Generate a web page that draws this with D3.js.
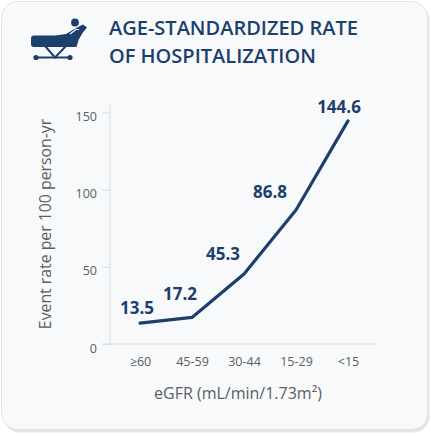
<!DOCTYPE html>
<html>
<head>
<meta charset="utf-8">
<script src="https://cdn.jsdelivr.net/npm/d3@7"></script>
<style>
  html, body { margin: 0; padding: 0; background: #fff; }
  svg { display: block; }
  text { font-family: "Open Sans", "Noto Sans", sans-serif; }
</style>
</head>
<body>
<script>
// eGFR groups and hospitalization rate per 100 person-yr
const categories = ["\u226560", "45-59", "30-44", "15-29", "<15"];
const rates = [13.5, 17.2, 45.3, 86.8, 144.6];
const yTicks = [0, 50, 100, 150];
const titleLines = ["AGE-STANDARDIZED RATE", "OF HOSPITALIZATION"];
// label nudges (px) so the numbers sit up/left of the line like the original
const labelNudge = [[-3, -9], [-12, -17], [-21, -14], [-26, -12], [-9, -8]];

const W = 431, H = 436;
const navy = "#1c3f6b", grey = "#5a5e63", axisGrey = "#d9dde1";

const svg = d3.select("body").append("svg")
  .attr("width", W)
  .attr("height", H);

// card
svg.append("rect")
  .attr("x", 3.5).attr("y", 4.5)
  .attr("width", 426).attr("height", 428)
  .attr("rx", 16)
  .attr("fill", "#e4e4e4");
svg.append("rect")
  .attr("x", 1.5).attr("y", 1.5)
  .attr("width", 426).attr("height", 428)
  .attr("rx", 16)
  .attr("fill", "#f7f9fb")
  .attr("stroke", "#e3e5e8");

// bed icon
const icon = svg.append("g").attr("fill", navy).attr("stroke", navy);
icon.append("circle").attr("cx", 75).attr("cy", 22.5).attr("r", 3.9).attr("stroke", "none");
icon.append("path")
  .attr("stroke", "none")
  .attr("d", "M34,35.5 L55,35.5 L66,34 L72,30.5 L79,26.5 L83,24.5 L87,27.5 L82.5,33 L78.5,40 L76.5,47 L34,47 Q31,47 31,44 L31,38.5 Q31,35.5 34,35.5 Z");
icon.append("path")
  .attr("fill", "none").attr("stroke", "#f7f9fb").attr("stroke-width", 1.2)
  .attr("d", "M70,34 L76,29.5 L79,29.5");
icon.append("line").attr("x1", 36).attr("y1", 57.5).attr("x2", 70).attr("y2", 57.5).attr("stroke-width", 2);
icon.append("path").attr("fill", "none").attr("stroke-width", 2)
  .attr("d", "M45,46 L55,57.5 L66,46");
icon.selectAll("circle.wheel").data([36, 70]).enter().append("circle")
  .attr("class", "wheel")
  .attr("cx", d => d).attr("cy", 57.5).attr("r", 2.6).attr("stroke", "none");

// title
svg.append("g").selectAll("text")
  .data(titleLines)
  .enter().append("text")
  .attr("x", 109)
  .attr("y", (d, i) => 35 + i * 27.5)
  .attr("fill", navy)
  .attr("font-size", 20)
  .attr("font-weight", 600)
  .text(d => d);

// scales
const x = d3.scalePoint().domain(categories).range([140, 348]);
const y = d3.scaleLinear().domain([0, 150]).range([344, 112.5]);

// axes
const yAxis = svg.append("g")
  .attr("transform", "translate(110,0)")
  .call(d3.axisLeft(y).tickValues(yTicks).tickSize(8).tickPadding(5));
yAxis.select(".domain").remove();
yAxis.append("line").attr("x1", 0).attr("x2", 0).attr("y1", 105).attr("y2", y(0)).attr("stroke", axisGrey);
yAxis.selectAll(".tick line").attr("stroke", axisGrey);
yAxis.selectAll(".tick text")
  .attr("fill", grey)
  .attr("font-size", 12.5)
  .attr("dy", "0.65em")
  .style("font-family", "'Open Sans', sans-serif");

const xAxis = svg.append("g")
  .attr("transform", `translate(0,${y(0)})`)
  .call(d3.axisBottom(x).tickSize(0).tickPadding(13));
xAxis.select(".domain").remove();
xAxis.insert("line", ":first-child").attr("x1", 102).attr("x2", 376).attr("stroke", axisGrey);
xAxis.selectAll(".tick text")
  .attr("fill", grey)
  .attr("font-size", 12.5)
  .style("font-family", "'Open Sans', sans-serif");

// axis titles
svg.append("text")
  .attr("transform", "translate(51,224) rotate(-90)")
  .attr("text-anchor", "middle")
  .attr("fill", grey)
  .attr("font-size", 15.8)
  .text("Event rate per 100 person-yr");

svg.append("text")
  .attr("x", 238)
  .attr("y", 399)
  .attr("text-anchor", "middle")
  .attr("fill", grey)
  .attr("font-size", 16)
  .text("eGFR (mL/min/1.73m\u00b2)");

// line
const pts = categories.map((c, i) => ({ c, v: rates[i], i }));
const line = d3.line().x(d => x(d.c)).y(d => y(d.v));

svg.append("path")
  .datum(pts)
  .attr("d", line)
  .attr("fill", "none")
  .attr("stroke", navy)
  .attr("stroke-width", 3.2)
  .attr("stroke-linecap", "round")
  .attr("stroke-linejoin", "round");

svg.append("g").selectAll("text")
  .data(pts)
  .enter().append("text")
  .attr("x", d => x(d.c) + labelNudge[d.i][0])
  .attr("y", d => y(d.v) + labelNudge[d.i][1])
  .attr("text-anchor", "middle")
  .attr("fill", navy)
  .attr("font-size", 17)
  .attr("font-weight", 700)
  .text(d => d.v.toFixed(1));
</script>
</body>
</html>
